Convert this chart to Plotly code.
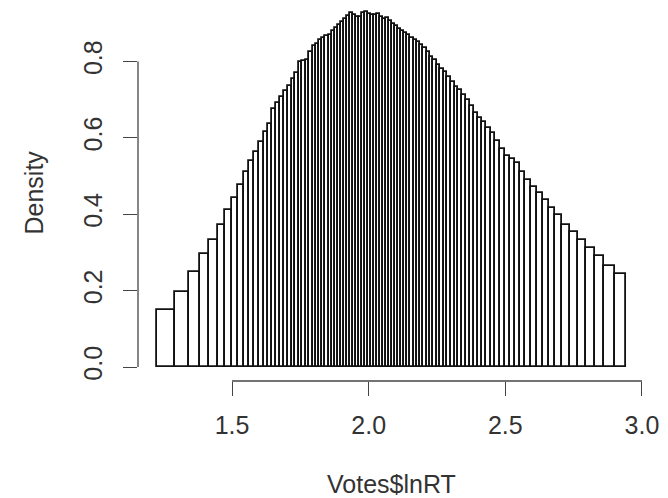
import plotly.graph_objects as go

# Quantile-based histogram of Votes$lnRT (each bin ~1% of data)
breaks = [1.2250, 1.2926, 1.3434, 1.3837, 1.4175, 1.4476, 1.4744, 1.4988, 1.5214, 1.5424,
          1.5620, 1.5806, 1.5984, 1.6154, 1.6317, 1.6475, 1.6623, 1.6769, 1.6911, 1.7050,
          1.7186, 1.7319, 1.7449, 1.7575, 1.7700, 1.7825, 1.7946, 1.8066, 1.8184, 1.8302,
          1.8418, 1.8534, 1.8649, 1.8763, 1.8876, 1.8988, 1.9099, 1.9209, 1.9319, 1.9427,
          1.9536, 1.9645, 1.9755, 1.9863, 1.9971, 2.0079, 2.0188, 2.0297, 2.0406, 2.0515,
          2.0625, 2.0735, 2.0846, 2.0958, 2.1070, 2.1184, 2.1298, 2.1412, 2.1528, 2.1644,
          2.1761, 2.1879, 2.1998, 2.2118, 2.2240, 2.2363, 2.2488, 2.2615, 2.2744, 2.2873,
          2.3005, 2.3140, 2.3276, 2.3415, 2.3556, 2.3699, 2.3846, 2.3997, 2.4151, 2.4307,
          2.4468, 2.4632, 2.4801, 2.4976, 2.5158, 2.5343, 2.5531, 2.5727, 2.5932, 2.6144,
          2.6363, 2.6592, 2.6835, 2.7089, 2.7361, 2.7647, 2.7951, 2.8276, 2.8623, 2.9004,
          2.9420]

density = [0.148, 0.197, 0.248, 0.296, 0.332, 0.373, 0.410, 0.443, 0.477, 0.510,
           0.539, 0.563, 0.590, 0.616, 0.635, 0.675, 0.690, 0.706, 0.722, 0.736,
           0.754, 0.770, 0.799, 0.800, 0.805, 0.825, 0.840, 0.846, 0.855, 0.862,
           0.866, 0.870, 0.880, 0.887, 0.895, 0.904, 0.910, 0.918, 0.926, 0.922,
           0.917, 0.915, 0.928, 0.930, 0.924, 0.921, 0.921, 0.924, 0.915, 0.910,
           0.913, 0.906, 0.898, 0.892, 0.885, 0.880, 0.874, 0.869, 0.862, 0.856,
           0.851, 0.843, 0.834, 0.825, 0.812, 0.804, 0.790, 0.780, 0.773, 0.760,
           0.747, 0.734, 0.725, 0.712, 0.699, 0.682, 0.665, 0.651, 0.642, 0.625,
           0.612, 0.592, 0.572, 0.552, 0.544, 0.533, 0.511, 0.490, 0.472, 0.455,
           0.437, 0.415, 0.398, 0.372, 0.353, 0.332, 0.311, 0.291, 0.265, 0.243]

x_ticks = [1.5, 2.0, 2.5, 3.0]
x_tick_labels = ["1.5", "2.0", "2.5", "3.0"]
y_ticks = [0.0, 0.2, 0.4, 0.6, 0.8]
y_tick_labels = ["0.0", "0.2", "0.4", "0.6", "0.8"]
x_title = "Votes$lnRT"
y_title = "Density"

mids = [(a + b) / 2 for a, b in zip(breaks[:-1], breaks[1:])]
widths = [b - a for a, b in zip(breaks[:-1], breaks[1:])]

FONT = "Liberation Sans"
FS = 25
AX = "#444444"
TXT = "#333333"

fig = go.Figure(go.Bar(
    x=mids, y=density, width=widths,
    marker=dict(color="white", line=dict(color="#111111", width=1.8)),
    hoverinfo="skip",
))

# The page body adds an 8px offset; the figure is sized and placed to compensate.
fig.update_layout(
    width=660, height=490,
    margin=dict(l=130, r=23, t=0, b=117, autoexpand=False),
    paper_bgcolor="white", plot_bgcolor="white",
    showlegend=False,
    bargap=0,
    font=dict(family=FONT, size=FS, color=TXT),
)
fig.update_xaxes(
    range=[1.156, 3.011], showgrid=False, zeroline=False, showline=False,
    automargin=False,
    tickmode="array", tickvals=x_ticks, ticktext=x_tick_labels,
    ticks="outside", ticklen=14, tickwidth=1.3, tickcolor=AX,
    ticklabelstandoff=8,
    tickfont=dict(family=FONT, size=FS, color=TXT),
)
fig.update_yaxes(
    range=[-0.0366, 0.9398], showgrid=False, zeroline=False, showline=False,
    automargin=False,
    tickmode="array", tickvals=y_ticks, ticktext=y_tick_labels,
    ticks="outside", ticklen=14, tickwidth=1.3, tickcolor=AX, tickangle=-90,
    ticklabelstandoff=11,
    tickfont=dict(family=FONT, size=FS, color=TXT),
)
# R-style axis lines spanning first to last tick
fig.add_shape(type="line", xref="x", yref="paper", x0=x_ticks[0], x1=x_ticks[-1], y0=0, y1=0,
              line=dict(color=AX, width=1.3))
fig.add_shape(type="line", xref="paper", yref="y", x0=0, x1=0, y0=y_ticks[0], y1=y_ticks[-1],
              line=dict(color=AX, width=1.3))

fig.add_annotation(text=x_title, xref="paper", yref="paper", x=0.5, y=0,
                   xanchor="center", yanchor="middle", yshift=-103, showarrow=False,
                   font=dict(family=FONT, size=FS, color=TXT))
fig.add_annotation(text=y_title, xref="paper", yref="paper", x=0, y=0.5,
                   xanchor="center", yanchor="middle", xshift=-105, yshift=2, textangle=-90,
                   showarrow=False, font=dict(family=FONT, size=FS, color=TXT))

fig.write_html("out.html")
